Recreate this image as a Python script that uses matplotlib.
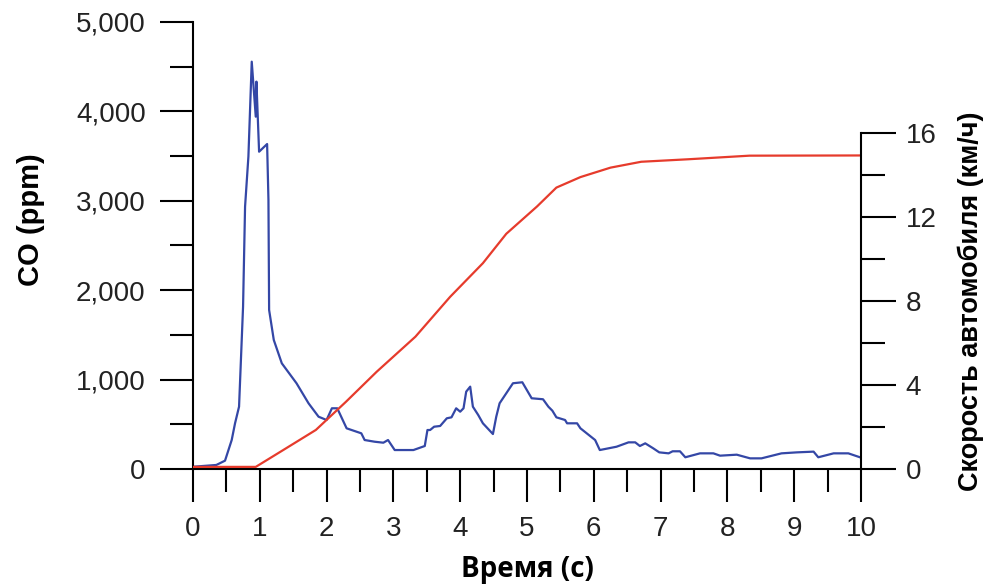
import numpy as np
import matplotlib
matplotlib.use('Agg')
import matplotlib.pyplot as plt
from matplotlib.ticker import MultipleLocator, FuncFormatter

# CO concentration (ppm) vs time (s)
co_t = [0.00, 0.35, 0.48, 0.58, 0.63, 0.69, 0.73, 0.75, 0.78, 0.83, 0.88, 0.94, 0.95, 0.99,
        1.11, 1.13, 1.14, 1.21, 1.33, 1.55, 1.73, 1.88, 2.00, 2.08, 2.16,
        2.30, 2.52, 2.57, 2.72, 2.85, 2.92, 3.02, 3.30, 3.47, 3.51, 3.55, 3.61, 3.70,
        3.80, 3.87, 3.94, 4.00, 4.05, 4.09, 4.15, 4.19, 4.27, 4.34, 4.49, 4.54, 4.59,
        4.79, 4.93, 5.07, 5.24, 5.32, 5.38, 5.44, 5.57, 5.60, 5.75, 5.80, 6.02, 6.09,
        6.34, 6.52, 6.62, 6.69, 6.77, 6.89, 6.98, 7.12, 7.18, 7.29, 7.37, 7.59, 7.79,
        7.89, 8.14, 8.34, 8.51, 8.81, 9.04, 9.29, 9.36, 9.59, 9.81, 10.00]
co_ppm = [25, 45, 93, 324, 511, 697, 1443, 1815, 2934, 3494, 4556, 3941, 4333, 3549,
          3635, 3009, 1779, 1443, 1182, 959, 735, 585, 548, 679, 679,
          455, 399, 324, 305, 294, 324, 212, 212, 257, 436, 436, 473, 481,
          567, 578, 679, 641, 679, 865, 921, 697, 604, 511, 391, 585, 735,
          959, 970, 791, 780, 697, 652, 578, 548, 511, 511, 455, 324, 212,
          249, 298, 298, 257, 287, 231, 186, 175, 198, 198, 131, 175, 175,
          149, 160, 119, 119, 175, 186, 194, 131, 175, 175, 127]

# vehicle speed (km/h) vs time (s)
v_t = [0.00, 0.94, 1.35, 1.84, 2.29, 2.75, 3.33, 3.85, 4.34, 4.69, 5.15, 5.44, 5.80,
       6.25, 6.71, 7.42, 8.33, 10.00]
v_kmh = [0.1, 0.1, 0.9, 1.86, 3.2, 4.63, 6.3, 8.2, 9.8, 11.2, 12.5, 13.4, 13.9,
         14.35, 14.63, 14.75, 14.92, 14.93]

blue = '#3447a6'
red = '#e63b2c'
tick_font = 'Liberation Sans'

fig = plt.figure(figsize=(9.89, 5.88), dpi=100)
ax = fig.add_axes([0.1951, 0.2024, 0.8706 - 0.1951, 0.9626 - 0.2024])
ax.plot(co_t, co_ppm, color=blue, lw=1.6)
ax.set_xlim(0, 10)
ax.set_ylim(0, 5000)

ax2 = ax.twinx()
ax2.plot(v_t, v_kmh, color=red, lw=1.6)
ax2.set_ylim(0, 16 * 447 / 336)

for a in (ax, ax2):
    a.spines['top'].set_visible(False)
    for s in a.spines.values():
        s.set_linewidth(1.5)
ax.spines['right'].set_visible(False)
ax2.spines['left'].set_visible(False)
ax2.spines['bottom'].set_visible(False)
ax.spines['left'].set_bounds(0, 5000)
ax2.spines['right'].set_bounds(0, 16)

ax.xaxis.set_major_locator(MultipleLocator(1))
ax.xaxis.set_minor_locator(MultipleLocator(0.5))
ax.yaxis.set_major_locator(MultipleLocator(1000))
ax.yaxis.set_minor_locator(MultipleLocator(500))
ax.yaxis.set_major_formatter(FuncFormatter(lambda v, p: '{:,.0f}'.format(v)))
ax2.set_yticks([0, 4, 8, 12, 16])
ax2.set_yticks([2, 6, 10, 14], minor=True)

ax.tick_params(axis='both', which='major', direction='out', length=24, width=1.5,
               labelsize=20, pad=10)
ax.tick_params(axis='both', which='minor', direction='out', length=16.5, width=1.5)
ax2.tick_params(axis='y', which='major', direction='out', length=25, width=1.5,
                labelsize=20, pad=7)
ax2.tick_params(axis='y', which='minor', direction='out', length=17, width=1.5)
for lab in ax.get_xticklabels() + ax.get_yticklabels() + ax2.get_yticklabels():
    lab.set_fontfamily(tick_font)
    lab.set_color('#222222')

ax.set_xlabel('Время (с)', fontsize=20, fontweight='bold', family='Open Sans')
ax.xaxis.set_label_coords(0.5, -0.192)
ax.set_ylabel('CO (ppm)', fontsize=21, fontweight='bold', family='Liberation Sans')
ax.yaxis.set_label_coords(-0.222, 0.557)
ax2.set_ylabel('Скорость автомобиля (км/ч)', fontsize=19.5, fontweight='bold',
               family='Liberation Sans')
ax2.yaxis.set_label_coords(1.145, 0.376)

fig.savefig('out.png', dpi=100)
